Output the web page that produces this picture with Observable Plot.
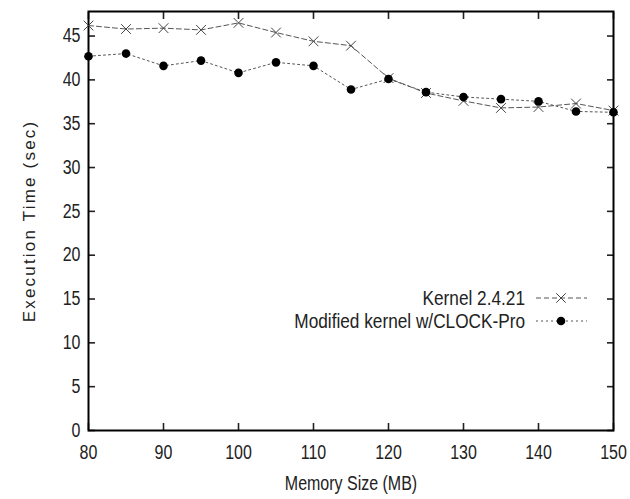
<!DOCTYPE html>
<html><head><meta charset="utf-8">
<script src="https://cdn.jsdelivr.net/npm/d3@7"></script>
<script src="https://cdn.jsdelivr.net/npm/@observablehq/plot@0.6"></script>
<style>
body{margin:0;background:#fff}
#chart svg{font-family:"Liberation Sans Narrow","Liberation Sans",Arial,sans-serif}
</style>
</head><body><div id="chart"></div>
<script>
const memorySizes = [80, 85, 90, 95, 100, 105, 110, 115, 120, 125, 130, 135, 140, 145, 150];
const kernelTimes = [46.2, 45.8, 45.9, 45.7, 46.5, 45.4, 44.4, 43.9, 40.2, 38.5, 37.6, 36.8, 36.9, 37.3, 36.5];
const clockProTimes = [42.7, 43.0, 41.6, 42.2, 40.8, 42.0, 41.6, 38.9, 40.1, 38.6, 38.05, 37.8, 37.55, 36.4, 36.3];
const seriesNames = ["Kernel 2.4.21", "Modified kernel w/CLOCK-Pro"];
const xTicks = [80, 90, 100, 110, 120, 130, 140, 150];
const yTicks = [0, 5, 10, 15, 20, 25, 30, 35, 40, 45];

const cv = document.createElement("canvas").getContext("2d");
const probe = "Modified kernel w/CLOCK-Pro 0123456789";
cv.font = "20px monospace"; const wMono = cv.measureText(probe).width;
cv.font = "20px 'Liberation Sans Narrow', monospace"; const wNarrow = cv.measureText(probe).width;
const hasNarrow = Math.abs(wMono - wNarrow) > 1;

const kernel = memorySizes.map((m, i) => ({x: m, y: kernelTimes[i]}));
const clock = memorySizes.map((m, i) => ({x: m, y: clockProTimes[i]}));

const chart = Plot.plot({
  width: 630,
  height: 499,
  marginLeft: 88,
  marginRight: 17,
  marginTop: 11,
  marginBottom: 69,
  style: {fontSize: "19.5px", color: "#222", background: "#fff"},
  x: {domain: [80, 150]},
  y: {domain: [0, 47.8]},
  marks: [
    Plot.axisX({anchor: "bottom", ticks: xTicks, tickSize: -7, text: null, label: null, strokeWidth: 1.6}),
    Plot.axisX({anchor: "top", ticks: xTicks, tickSize: -7, text: null, label: null, strokeWidth: 1.6}),
    Plot.axisY({anchor: "left", ticks: yTicks, tickSize: -7, text: null, label: null, strokeWidth: 1.6}),
    Plot.axisY({anchor: "right", ticks: yTicks, tickSize: -7, text: null, label: null, strokeWidth: 1.6}),
    Plot.axisX({anchor: "bottom", ticks: xTicks, tickSize: 0, tickPadding: 15,
      label: "Memory Size (MB)", labelAnchor: "center", labelArrow: "none", labelOffset: 59}),
    Plot.axisY({anchor: "left", ticks: yTicks, tickSize: 0, tickPadding: 8,
      label: "Execution Time (sec)", labelAnchor: "center", labelArrow: "none", labelOffset: 66}),
    Plot.frame({stroke: "#000", strokeWidth: 2}),
    Plot.line(kernel, {x: "x", y: "y", stroke: "#555", strokeWidth: 1, strokeDasharray: "5,3"}),
    Plot.line(clock, {x: "x", y: "y", stroke: "#555", strokeWidth: 1, strokeDasharray: "2,3"}),
    Plot.dot(kernel, {x: "x", y: "y", symbol: "times", r: 4.5, stroke: "#444", strokeWidth: 1}),
    Plot.dot(clock, {x: "x", y: "y", symbol: "circle", r: 4.3, fill: "#000", stroke: "none"})
  ]
});
document.getElementById("chart").appendChild(chart);

const svg = d3.select(chart);
const lg = svg.append("g").attr("font-size", 21).attr("fill", "#222");
const rows = [
  {name: seriesNames[0], y: 298, dash: "5,3", sym: "times"},
  {name: seriesNames[1], y: 321, dash: "2,3", sym: "circle"}
];
rows.forEach(r => {
  lg.append("text").attr("x", 525).attr("y", r.y).attr("dy", "0.35em")
    .attr("text-anchor", "end").text(r.name);
  lg.append("line").attr("x1", 536).attr("x2", 587).attr("y1", r.y).attr("y2", r.y)
    .attr("stroke", "#555").attr("stroke-dasharray", r.dash);
  if (r.sym === "times") {
    lg.append("path").attr("d", d3.symbol(d3.symbolTimes, 60)()).attr("transform", `translate(561,${r.y})`)
      .attr("stroke", "#444").attr("fill", "none");
  } else {
    lg.append("circle").attr("cx", 561).attr("cy", r.y).attr("r", 4.3).attr("fill", "#000");
  }
});

const yTitle = svg.select('g[aria-label="y-axis label"] text');
yTitle.style("font-family", "'Liberation Sans',Arial,sans-serif").attr("font-size", 17).attr("letter-spacing", 2.2);

if (!hasNarrow) {
  svg.selectAll("text").each(function() {
    if (this === yTitle.node()) return;
    const len = this.getComputedTextLength();
    if (len > 0) this.setAttribute("textLength", len * 0.82), this.setAttribute("lengthAdjust", "spacingAndGlyphs");
  });
}
</script>
</body></html>
